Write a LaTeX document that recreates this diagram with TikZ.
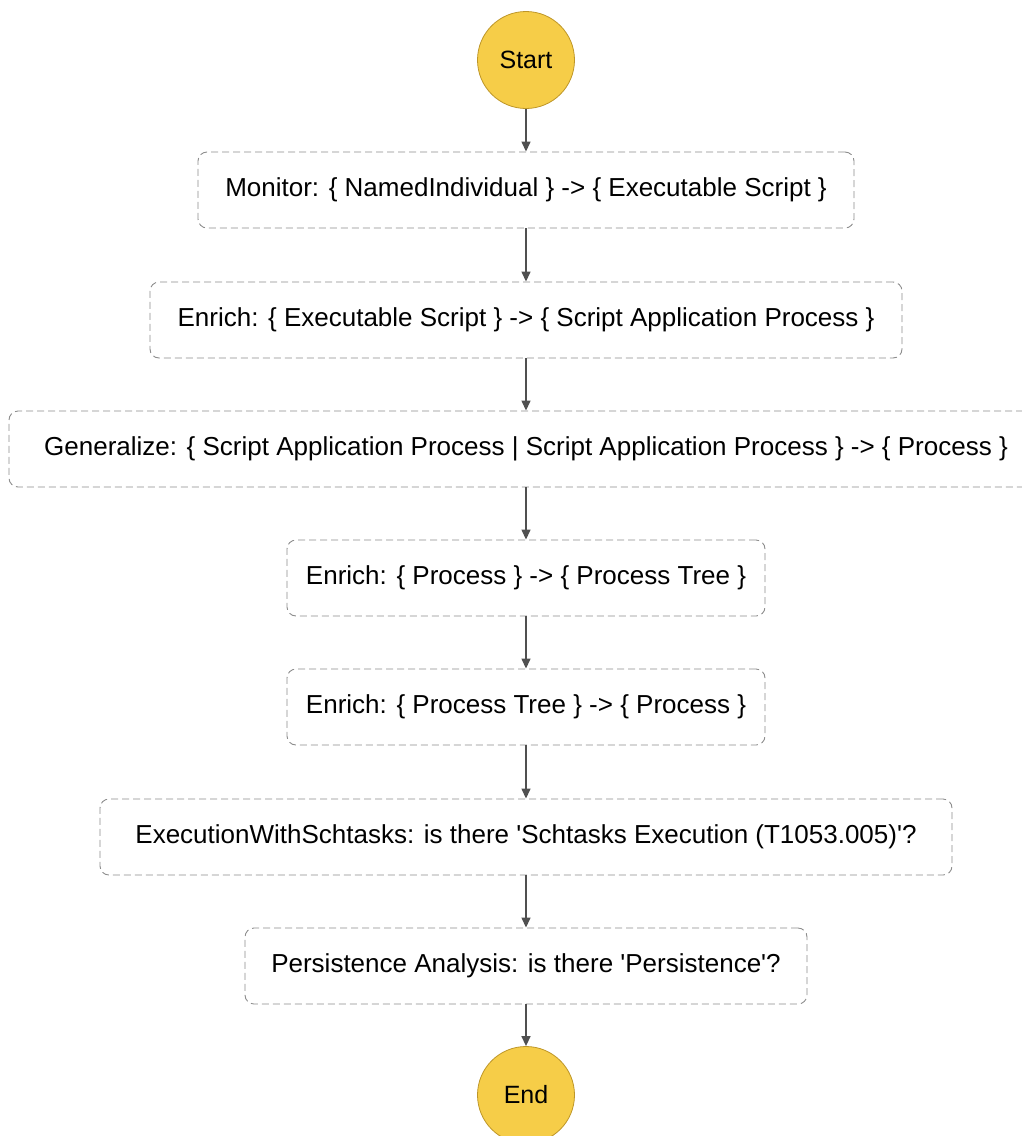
\documentclass[tikz,border=0pt]{standalone}
\usepackage{fontspec}
\setmainfont{Liberation Sans}
\usepackage{tikz}
\usetikzlibrary{arrows.meta}
\definecolor{termfill}{RGB}{246,205,72}
\definecolor{termline}{RGB}{190,150,40}
\definecolor{boxline}{RGB}{140,140,140}
\definecolor{flowline}{RGB}{80,80,80}
\tikzset{
  terminal/.style={circle, fill=termfill, draw=termline, line width=0.8pt, minimum size=97pt, inner sep=0pt, font=\fontsize{25}{30}\selectfont},
  stepbox/.style={rectangle, rounded corners=9pt, draw=boxline, line width=0.9pt, dash pattern=on 7pt off 4pt, minimum height=76pt, inner sep=0pt, font=\fontsize{26}{31}\selectfont},
  flow/.style={draw=flowline, line width=1.4pt, -{Triangle[length=10pt,width=9pt]}}
}
\newcommand{\termnode}[3]{\node[terminal] (#1) at (526, #2) {#3};}
\newcommand{\stepnode}[4]{\node[stepbox, minimum width=#3] (#1) at (526, #2) {#4};}
\newcommand{\q}{\textquotesingle}

\begin{document}
\begin{tikzpicture}[x=1pt, y=-1pt]
        \useasboundingbox (0,0) rectangle (1022,1136);

        % start
        \termnode{start}{60}{Start}

        % steps
        \stepnode{monitor}{190}{656pt}{Monitor: \{ NamedIndividual \} -> \{ Executable Script \}}
        \stepnode{enrichA}{320}{752pt}{Enrich: \{ Executable Script \} -> \{ Script Application Process \}}
        \stepnode{general}{449}{1034pt}{Generalize: \{ Script Application Process | Script Application Process \} -> \{ Process \}}
        \stepnode{enrichB}{578}{478pt}{Enrich: \{ Process \} -> \{ Process Tree \}}
        \stepnode{enrichC}{707}{478pt}{Enrich: \{ Process Tree \} -> \{ Process \}}
        \stepnode{schtask}{837}{852pt}{ExecutionWithSchtasks: is there \q Schtasks Execution (T1053.005)\q?}
        \stepnode{persist}{966}{562pt}{Persistence Analysis: is there \q Persistence\q?}

        % end
        \termnode{finish}{1095}{End}

        % arrows
        \draw[flow] (start) -- (monitor);
        \draw[flow] (monitor) -- (enrichA);
        \draw[flow] (enrichA) -- (general);
        \draw[flow] (general) -- (enrichB);
        \draw[flow] (enrichB) -- (enrichC);
        \draw[flow] (enrichC) -- (schtask);
        \draw[flow] (schtask) -- (persist);
        \draw[flow] (persist) -- (finish);

    \end{tikzpicture}
\end{document}
